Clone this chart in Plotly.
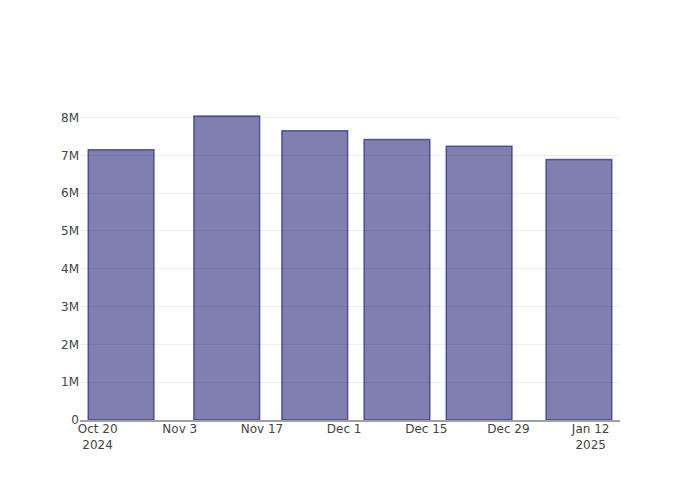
import plotly.graph_objects as go

dates = ["2024-10-24", "2024-11-11", "2024-11-26", "2024-12-10", "2024-12-24", "2025-01-10"]
values = [7.15e6, 8.04e6, 7.65e6, 7.42e6, 7.24e6, 6.89e6]

fig = go.Figure(
    go.Bar(
        x=dates,
        y=values,
        marker=dict(color="rgba(0,0,98,0.5)", line=dict(color="rgba(40,40,130,0.7)", width=1.5)),
    )
)

fig.update_layout(
    width=700,
    height=500,
    template="plotly_white",
    font=dict(family="DejaVu Sans", size=12, color="#444"),
    margin=dict(t=92, b=88, l=72, r=88),
    showlegend=False,
)
fig.update_xaxes(
    showgrid=False,
    showline=True,
    linecolor="#a0a0a0",
    linewidth=1.5,
    dtick=14 * 24 * 3600 * 1000,
    tick0="2024-10-20",
    tickformat="%b %-d\n%Y",
    ticklabelstandoff=-3,
)
fig.update_yaxes(gridcolor="#efefef", zeroline=False, tickformat="~s", dtick=1e6)

fig.write_html("out.html")
